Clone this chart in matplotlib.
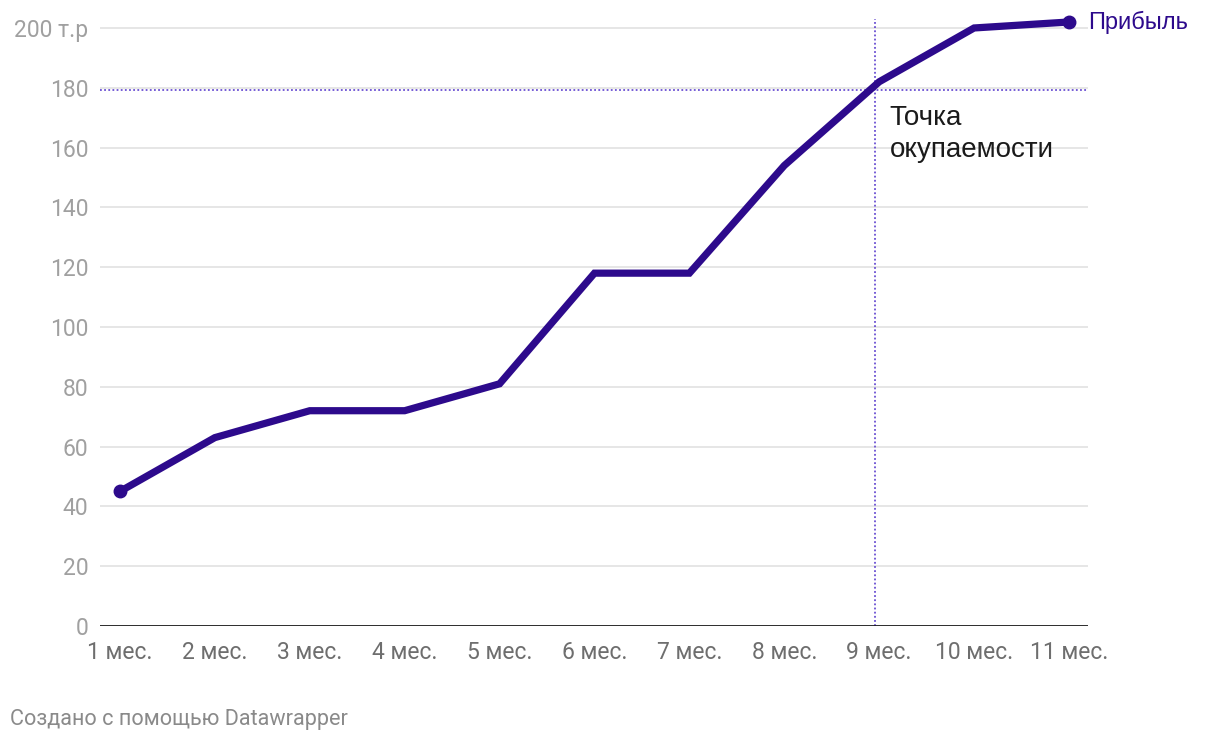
import matplotlib
matplotlib.use("Agg")
import matplotlib.pyplot as plt

months = ["1 мес.", "2 мес.", "3 мес.", "4 мес.", "5 мес.", "6 мес.", "7 мес.", "8 мес.", "9 мес.", "10 мес.", "11 мес."]
profit = [45, 63, 72, 72, 81, 118, 118, 154, 182, 200, 202]
y_ticks = [0, 20, 40, 60, 80, 100, 120, 140, 160, 180, 200]
y_labels = ["0", "20", "40", "60", "80", "100", "120", "140", "160", "180", "200 т.р"]
breakeven_x = 7.96
breakeven_y = 179.3

plt.rcParams['font.family'] = ['Roboto', 'DejaVu Sans']
arial = ['Liberation Sans', 'DejaVu Sans']

fig = plt.figure(figsize=(12.2, 7.42), dpi=100)
ax = fig.add_axes([100/1220, 1 - 626/742, (1088-100)/1220, (626-19)/742])

x = list(range(len(months)))
line_color = "#2d0a8c"
dot_color = "#6a4fd2"

for t in y_ticks[1:]:
    ax.axhline(t, color="#e2e2e2", lw=1.2, zorder=1)
ax.axhline(0, color="#1a1a1a", lw=2, zorder=3)

ax.axhline(breakeven_y, color=dot_color, lw=1.3, ls=(0, (1, 1.3)), zorder=2)
ax.plot([breakeven_x, breakeven_x], [0, 203], color=dot_color, lw=1.3, ls=(0, (1, 1.3)), zorder=2)

ax.plot(x, profit, color=line_color, lw=5.2, solid_joinstyle="miter", zorder=4, clip_on=False)
ax.plot([x[0], x[-1]], [profit[0], profit[-1]], "o", color=line_color, ms=9, zorder=5, clip_on=False)

ax.set_xlim(-0.21, 10.2)
ax.set_ylim(0, 203)
ax.set_yticks(y_ticks)
ax.set_yticklabels(y_labels)
ax.set_xticks(x)
ax.set_xticklabels(months)
ax.tick_params(axis="y", length=0, pad=8.5, labelsize=16.5, labelcolor="#a0a0a0")
ax.tick_params(axis="x", length=0, pad=11, labelsize=16.5, labelcolor="#6e6e6e")
for s in ax.spines.values():
    s.set_visible(False)

ax.text(x[-1] + 0.2, profit[-1], "Прибыль", color=line_color, fontsize=17, va="center", ha="left", family=arial)
ax.text(8.11, 167.6, "Точка", color="#1a1a1a", fontsize=20, va="baseline", ha="left", family=arial)
ax.text(8.11, 156.9, "окупаемости", color="#1a1a1a", fontsize=20, va="baseline", ha="left", family=arial)

fig.text(10/1220, 1 - 725/742, "Создано с помощью Datawrapper", color="#8a8a8a", fontsize=15.6, va="baseline", ha="left")

fig.savefig("out.png", dpi=100)
